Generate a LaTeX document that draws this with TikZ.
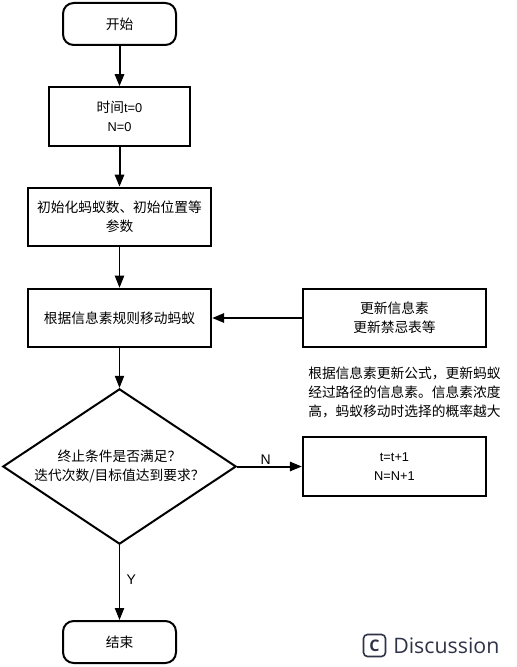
\documentclass[tikz,border=0pt]{standalone}
\usepackage{fontspec}
\setmainfont{Liberation Sans}
\newfontfamily\cjk{Noto Sans CJK SC}
\newfontfamily\brand{Open Sans}
\usetikzlibrary{shapes.geometric,arrows.meta}
\definecolor{brandink}{HTML}{2F3347}
\newcommand{\zh}[1]{{\cjk\fontsize{10.3pt}{14.5pt}\selectfont #1}}
\newcommand{\fwcomma}{\char"FF0C\relax}
\newcommand{\fwquery}{\char"FF1F\relax}
\tikzset{
  x=0.75pt,y=-0.75pt,
  every node/.style={font=\fontsize{9.6pt}{14.5pt}\selectfont},
  procbox/.style={draw=black,line width=1.5pt,align=center,inner sep=0pt},
  termbox/.style={procbox,rounded corners=8pt,minimum width=84.75pt,minimum height=31.5pt},
  widebox/.style={procbox,minimum width=137.5pt,minimum height=44pt},
  flowthick/.style={draw=black,line width=1.5pt,-{Triangle[length=9pt,width=7pt]}},
  flowthin/.style={draw=black,line width=0.75pt,-{Triangle[length=9pt,width=7pt]}},
  edgelabel/.style={inner sep=0pt,font=\fontsize{10.5pt}{12pt}\selectfont},
}
\begin{document}
\begin{tikzpicture}
\useasboundingbox (0,0) rectangle (517,667);
\node[termbox] (start) at (119.5,24) {\zh{开始}};
\node[procbox,minimum width=105.75pt,minimum height=44pt] (time) at (119.5,116.5) {\zh{时间}t=0\\N=0};
\node[widebox] (init) at (119.5,217) {\zh{初始化蚂蚁数、初始位置等}\\\zh{参数}};
\node[widebox] (move) at (119.5,318) {\zh{根据信息素规则移动蚂蚁}};
\node[widebox] (update) at (394.5,318) {\zh{更新信息素}\\\zh{更新禁忌表等}};
\node[diamond,draw=black,line width=1.5pt,aspect=1.5,inner sep=0pt,minimum width=175pt,minimum height=116.5pt,align=center] (cond) at (119.5,466.5) {\zh{终止条件是否满足\fwquery}\\\zh{迭代次数/目标值达到要求\fwquery}};
\node[widebox] (incr) at (394.5,466.5) {t=t+1\\N=N+1};
\node[termbox] (finish) at (119.5,642) {\zh{结束}};
\node[align=left,inner sep=0pt,anchor=west] (note) at (308,392.5) {\zh{根据信息素更新公式\fwcomma 更新蚂蚁}\\\zh{经过路径的信息素。信息素浓度}\\\zh{高\fwcomma 蚂蚁移动时选择的概率越大}};
\draw[flowthick] (start) -- (time);
\draw[flowthick] (time) -- (init);
\draw[flowthin] (init) -- (move);
\draw[flowthin] (move) -- (cond);
\draw[flowthick] (update) -- (move);
\draw[flowthick] (cond) -- node[edgelabel,pos=0.44,above=1pt] (nlabel) {N} (incr);
\draw[flowthin] (cond) -- node[edgelabel,pos=0.46,right=5pt] (ylabel) {Y} (finish);
\node[draw=brandink,line width=1.2pt,rounded corners=3pt,minimum width=16.5pt,minimum height=16.5pt,inner sep=0pt,text=brandink,font=\brand\bfseries\fontsize{12pt}{12pt}\selectfont] (cicon) at (374.5,645.5) {C};
\node[anchor=west,inner sep=0pt,text=brandink,font=\brand\fontsize{16pt}{16pt}\selectfont] (disc) at (393,645.5) {Discussion};
\end{tikzpicture}
\end{document}
